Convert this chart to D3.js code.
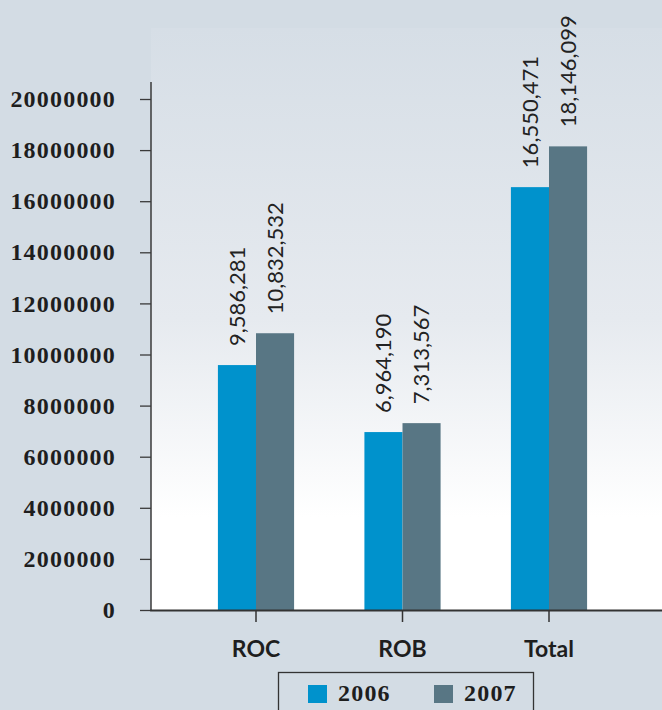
<!DOCTYPE html>
<html>
<head>
<meta charset="utf-8">
<script src="https://cdn.jsdelivr.net/npm/d3@7"></script>
<style>
  html, body { margin: 0; padding: 0; background: #d3dce4; }
  svg { display: block; }
</style>
</head>
<body>
<svg id="chart" width="662" height="710"></svg>
<script>
// Data
const categories = ["ROC", "ROB", "Total"];
const seriesNames = ["2006", "2007"];
const values2006 = [9586281, 6964190, 16550471];
const values2007 = [10832532, 7313567, 18146099];
const yTicks = [0, 2000000, 4000000, 6000000, 8000000, 10000000, 12000000, 14000000, 16000000, 18000000, 20000000];
const seriesColors = ["#0092cc", "#587684"];

const svg = d3.select("#chart");

// Plot frame
const plot = { left: 151, right: 662, top: 28, bottom: 610 };

const y = d3.scaleLinear().domain([0, 20000000]).range([plot.bottom, 99]);
const x = d3.scaleBand().domain(categories).range([182.75, 622.25])
  .paddingInner(0.48).paddingOuter(0.24);
const xs = d3.scaleBand().domain(seriesNames).range([0, x.bandwidth()]);
const color = d3.scaleOrdinal().domain(seriesNames).range(seriesColors);

// Background gradient inside the plot
const defs = svg.append("defs");
const grad = defs.append("linearGradient").attr("id", "plotBg")
  .attr("x1", 0).attr("y1", 0).attr("x2", 0).attr("y2", 1);
grad.append("stop").attr("offset", "0%").attr("stop-color", "#d6dee6");
grad.append("stop").attr("offset", "50%").attr("stop-color", "#e6eaef");
grad.append("stop").attr("offset", "84%").attr("stop-color", "#ffffff");
grad.append("stop").attr("offset", "100%").attr("stop-color", "#ffffff");

svg.append("rect")
  .attr("x", plot.left).attr("y", plot.top)
  .attr("width", plot.right - plot.left).attr("height", plot.bottom - plot.top)
  .attr("fill", "url(#plotBg)");

// Bars
const rows = categories.map((c, i) => ({
  cat: c,
  vals: [{ s: "2006", v: values2006[i] }, { s: "2007", v: values2007[i] }]
}));

const groups = svg.selectAll("g.cat").data(rows).join("g")
  .attr("class", "cat")
  .attr("transform", d => `translate(${x(d.cat)},0)`);

groups.selectAll("rect").data(d => d.vals).join("rect")
  .attr("x", d => xs(d.s))
  .attr("y", d => y(d.v))
  .attr("width", xs.bandwidth())
  .attr("height", d => y(0) - y(d.v))
  .attr("fill", d => color(d.s));

// Value labels, rotated
const fmt = d3.format(",");
groups.selectAll("text.val").data(d => d.vals).join("text")
  .attr("class", "val")
  .attr("transform", d => `translate(${xs(d.s) + xs.bandwidth() / 2},${y(d.v) - 19}) rotate(-90)`)
  .attr("dy", "0.36em")
  .attr("text-anchor", "start")
  .attr("font-family", "Lato, 'Open Sans', sans-serif")
  .attr("font-size", 22)
  .attr("fill", "#222")
  .text(d => fmt(d.v));

// Y axis
const yAxis = svg.append("g")
  .attr("transform", `translate(${plot.left},0)`)
  .call(d3.axisLeft(y).tickValues(yTicks).tickSize(11).tickPadding(24)
    .tickFormat(d3.format("d")));
yAxis.select(".domain").remove();
yAxis.append("line")
  .attr("x1", 0).attr("x2", 0).attr("y1", 82).attr("y2", plot.bottom + 1)
  .attr("stroke", "#3a3a3a").attr("stroke-width", 1.5);
yAxis.selectAll(".tick line").attr("stroke", "#3a3a3a").attr("stroke-width", 1.3);
yAxis.selectAll(".tick text")
  .attr("font-family", "'Liberation Serif', serif")
  .attr("font-weight", "bold")
  .attr("font-size", 24)
  .attr("letter-spacing", 1.2)
  .attr("fill", "#1e1e1e");

// X axis
const xAxis = svg.append("g")
  .attr("transform", `translate(0,${plot.bottom})`)
  .call(d3.axisBottom(x).tickSize(12).tickPadding(19));
xAxis.select(".domain").remove();
xAxis.append("line")
  .attr("x1", plot.left - 0.75).attr("x2", plot.right).attr("y1", 0.5).attr("y2", 0.5)
  .attr("stroke", "#333").attr("stroke-width", 2);
xAxis.selectAll(".tick line").attr("stroke", "#333").attr("stroke-width", 1.5);
xAxis.selectAll(".tick text")
  .attr("font-family", "Lato, 'Open Sans', sans-serif")
  .attr("font-weight", "bold")
  .attr("font-size", 23)
  .attr("fill", "#1e1e1e");

// Legend
const legend = svg.append("g");
legend.append("rect")
  .attr("x", 278.5).attr("y", 672.5).attr("width", 255).attr("height", 50)
  .attr("fill", "#d3dce4").attr("stroke", "#333").attr("stroke-width", 1.3);
const legendX = [308, 434];
const items = legend.selectAll("g.item").data(seriesNames).join("g")
  .attr("class", "item")
  .attr("transform", (d, i) => `translate(${legendX[i]},685)`);
items.append("rect")
  .attr("width", 19).attr("height", 18)
  .attr("fill", d => color(d));
items.append("text")
  .attr("x", 30).attr("y", 16)
  .attr("font-family", "'Liberation Serif', serif")
  .attr("font-weight", "bold")
  .attr("font-size", 24)
  .attr("letter-spacing", 1.2)
  .attr("fill", "#1e1e1e")
  .text(d => d);
</script>
</body>
</html>
